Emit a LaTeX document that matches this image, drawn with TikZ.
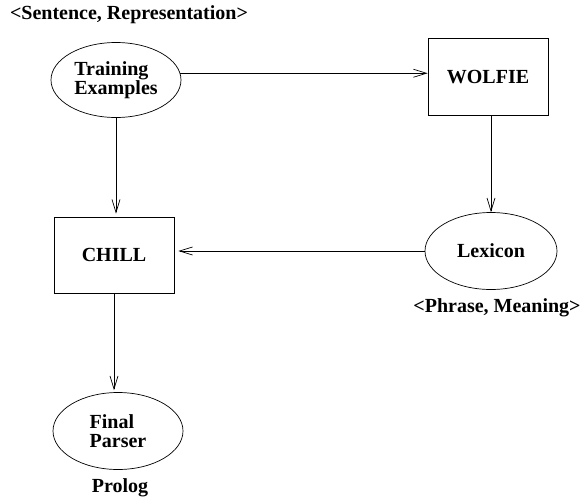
\documentclass[tikz,border=0pt]{standalone}
\usepackage{fontspec}
\setmainfont{Liberation Serif}
\usetikzlibrary{arrows.meta,shapes.geometric}
\begin{document}
\begin{tikzpicture}[x=1pt,y=-1pt,
  every node/.style={font=\fontsize{20}{18.5}\selectfont\bfseries},
  ell/.style={draw, ellipse, minimum width=130pt, minimum height=75pt, inner sep=0pt, align=left, line width=0.7pt},
  box/.style={draw, rectangle, minimum width=120pt, minimum height=77pt, line width=0.7pt},
  lbl/.style={inner sep=0pt},
  arr/.style={-{Straight Barb[length=13pt,width=8pt]}, line width=0.7pt}]
\useasboundingbox (0,0) rectangle (581,498);
\node[ell] (TE) at (116,80) {Training\\Examples};
\node[box] (W) at (488,77) {WOLFIE};
\node[box, minimum height=76pt] (C) at (114,255) {CHILL};
\node[ell, minimum width=132pt, minimum height=77pt] (L) at (491,251) {Lexicon};
\node[ell, minimum width=130pt, minimum height=77pt] (F) at (118,431) {Final\\Parser};
\node[lbl] (s1) at (129,15) {<Sentence, Representation>};
\node[lbl] (s2) at (497,308) {<Phrase, Meaning>};
\node[lbl] (s3) at (120,488) {Prolog};
\draw[arr] (TE.6) -- (TE.6 -| W.west);
\draw[arr, shorten >=3pt] (TE.south) -- (TE.south |- C.north);
\draw[arr] (L.north |- W.south) -- (L.north);
\draw[arr, shorten >=4pt] (L.west) -- (L.west -| C.east);
\draw[arr, shorten >=2pt] (C.south) -- (C.south |- F.north);
\end{tikzpicture}
\end{document}
